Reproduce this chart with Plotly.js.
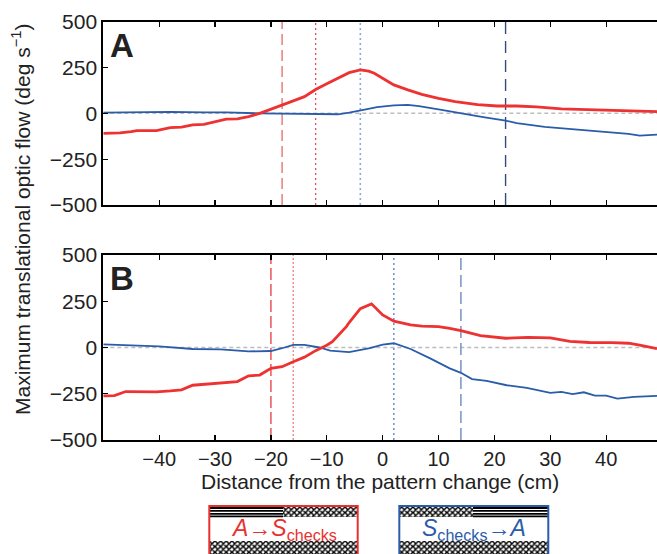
<!DOCTYPE html>
<html><head><meta charset="utf-8">
<script src="https://cdn.plot.ly/plotly-3.0.1.min.js"></script>
<style>html,body{margin:0;padding:0;background:#fff;overflow:hidden}</style>
</head><body><div id="chart" style="width:657px;height:554px"></div>
<script>
// ---------- data ----------
const redA_x = [-50,-47,-45,-44,-40.5,-38,-36,-34,-32,-30,-28,-26,-24,-22,-20,-18,-16,-14,-12,-10,-8.5,-6,-4,-2.5,-1.5,0,2,4.5,7,10,13,17,20.5,24,27.5,32,37,42,45.5,49.1];
const redA_y = [-109,-107,-100,-94,-94,-78,-75,-63,-60,-47,-32,-30,-18,0,24,48,68,91,130,161,185,222,237,230,219,190,155,128,104,82,64,48,40,40,35,24,20,17,13,9];
const blueA_x = [-50,-45,-38,-32,-28,-22,-16,-10,-8,-6,-4,-3,-1,2,4.5,6.5,10,13,18,22,24,29,35,41,44,46,49.1];
const blueA_y = [4,5,8,5,5,0,-2,-8,-5,4,14,22,34,44,46,40,22,5,-20,-40,-53,-74,-90,-103,-112,-121,-116];
const redB_x = [-50,-48,-46,-43.5,-40.5,-38,-36,-34,-32,-30,-28,-26,-24,-22,-20,-18,-16,-14,-12,-10,-9,-8,-6.5,-6,-4,-2,0,2,5,7,10,12,14,17.5,22,26,30,33.5,37,41,44,46,49.1];
const redB_y = [-262,-260,-238,-238,-240,-235,-229,-204,-198,-195,-187,-184,-153,-149,-113,-104,-77,-52,-17,12,31,62,113,135,210,236,176,142,122,116,113,104,91,64,50,55,52,33,27,26,23,13,-6];
const blueB_x = [-50,-44,-40,-34,-29,-24,-20,-18,-16,-14,-11.3,-9.4,-6,-2.3,0,2,5,8.5,12,14,16,18.6,22.2,25.8,30,32,34,36,38,40,42,45,49.1];
const blueB_y = [17,12,6,-8,-10,-21,-19,-4,14,14,0,-17,-25,-4,15,23,-8,-59,-113,-137,-171,-180,-204,-218,-245,-240,-252,-242,-260,-260,-276,-267,-262];
const markersA_x = [-18,-12,-4,22];
const markersB_x = [-20,-16,2,14];
const xTicks = [-40,-30,-20,-10,0,10,20,30,40];
const yTicks = [-500,-250,0,250,500];
const legendLabels = ['<i>A</i>→<i>S</i><sub>checks</sub>','<i>S</i><sub>checks</sub>→<i>A</i>'];

// ---------- styles ----------
const RED = '#EE3131', BLUE = '#2A5CAA';
const FONT = 'Liberation Sans, Arial, sans-serif';
const markerStylesA = [
  {color:'#E26A72', dash:'11px,5px', width:1.3},
  {color:'#DD4A63', dash:'2px,3px', width:1.3},
  {color:'#8CA8DA', dash:'2px,3px', width:1.6},
  {color:'#2F4C7C', dash:'12px,7px', width:1.4}
];
const markerStylesB = [
  {color:'#E83838', dash:'12px,4px', width:1.3},
  {color:'#F08A8A', dash:'2px,2px', width:1.4},
  {color:'#4F7DCC', dash:'2px,3px', width:1.3},
  {color:'#7E98C8', dash:'12px,5px', width:1.6}
];

const traces = [];
function vlines(xs, styles, xa, ya){
  xs.forEach((v,i)=>traces.push({x:[v,v], y:[-500,500], xaxis:xa, yaxis:ya, mode:'lines',
    line:styles[i], hoverinfo:'skip', showlegend:false}));
}
vlines(markersA_x, markerStylesA, 'x', 'y');
vlines(markersB_x, markerStylesB, 'x2', 'y2');
traces.push({x:blueA_x, y:blueA_y, xaxis:'x', yaxis:'y', mode:'lines', line:{color:BLUE, width:1.8}, showlegend:false});
traces.push({x:redA_x, y:redA_y, xaxis:'x', yaxis:'y', mode:'lines', line:{color:RED, width:2.8}, showlegend:false});
traces.push({x:blueB_x, y:blueB_y, xaxis:'x2', yaxis:'y2', mode:'lines', line:{color:BLUE, width:1.8}, showlegend:false});
traces.push({x:redB_x, y:redB_y, xaxis:'x2', yaxis:'y2', mode:'lines', line:{color:RED, width:2.8}, showlegend:false});

// legend texture patches (pixel coords on helper axis)
const patches = [
  {x0:283, x1:357, y0:506.5, y1:517},
  {x0:210, x1:357, y0:541, y1:554},
  {x0:400, x1:473, y0:506.5, y1:517},
  {x0:400, x1:548, y0:541, y1:554}
];
traces.push({type:'bar', xaxis:'x3', yaxis:'y3', showlegend:false, hoverinfo:'skip',
  x:patches.map(p=>(p.x0+p.x1)/2), width:patches.map(p=>p.x1-p.x0),
  base:patches.map(p=>p.y0), y:patches.map(p=>p.y1-p.y0),
  marker:{color:'#fff', line:{width:0}, pattern:{shape:'x', size:4, solidity:0.6, fgcolor:'#000', bgcolor:'#fff', fillmode:'replace'}}});

const shapes = [];
['y','y2'].forEach(ya=>shapes.push({type:'line', xref:(ya==='y'?'x':'x2')+' domain', yref:ya, x0:0, x1:1, y0:0, y1:0,
  line:{color:'#BDBDBD', width:1.5, dash:'4px,3px'}, layer:'below'}));
// stripes
[[210,283],[473,548]].forEach(([a,b])=>{
  [508,510.9,513.8,516.4].forEach(yy=>shapes.push({type:'line', xref:'x3', yref:'y3', x0:a, x1:b, y0:yy, y1:yy, line:{color:'#000', width:1.8}}));
});
shapes.push({type:'rect', xref:'x3', yref:'y3', x0:209.3, x1:357.7, y0:506, y1:560, line:{color:'#E8302F', width:2}});
shapes.push({type:'rect', xref:'x3', yref:'y3', x0:399.3, x1:548.3, y0:506, y1:560, line:{color:'#2A5CAA', width:2}});

const W=657, H=554;
const py = p => 1 - p/H;
const axX = {range:[-50,49.1], showline:true, linewidth:2, linecolor:'#000', mirror:'ticks', ticks:'inside', ticklen:5, tickwidth:1.3, tickcolor:'#000',
  tickvals:xTicks, showgrid:false, zeroline:false, domain:[103.3/W,1], fixedrange:true, tickfont:{family:FONT, size:20, color:'#222'}};
const axY = {range:[-500,500], showline:true, linewidth:2, linecolor:'#000', ticks:'inside', ticklen:5, tickwidth:1.3, tickcolor:'#000',
  tickvals:yTicks, showgrid:false, zeroline:false, fixedrange:true, tickfont:{family:FONT, size:21, color:'#222'}};

const layout = {
  width:W, height:H, margin:{l:0,r:0,t:0,b:0}, paper_bgcolor:'#fff', plot_bgcolor:'rgba(0,0,0,0)',
  showlegend:false, font:{family:FONT, color:'#222'},
  xaxis:Object.assign({}, axX, {anchor:'y', showticklabels:false}),
  yaxis:Object.assign({}, axY, {anchor:'x', domain:[py(205), py(21.7)]}),
  xaxis2:Object.assign({}, axX, {anchor:'y2', showticklabels:true,
    title:{text:'Distance from the pattern change (cm)', font:{family:FONT, size:21, color:'#222'}, standoff:2}}),
  yaxis2:Object.assign({}, axY, {anchor:'x2', domain:[py(440), py(255)]}),
  xaxis3:{domain:[0,1], range:[0,W], visible:false, fixedrange:true, anchor:'y3'},
  yaxis3:{domain:[0, py(490)], range:[H,490], visible:false, fixedrange:true, anchor:'x3'},
  bargap:0,
  shapes:shapes,
  annotations:[
    {text:'<b>A</b>', xref:'paper', yref:'paper', x:108/W, y:py(45), xanchor:'left', yanchor:'middle', showarrow:false, font:{family:FONT, size:33, color:'#222'}},
    {text:'<b>B</b>', xref:'paper', yref:'paper', x:108/W, y:py(278), xanchor:'left', yanchor:'middle', showarrow:false, font:{family:FONT, size:33, color:'#222'}},
    {text:'Maximum translational optic flow (deg s<sup>−1</sup>)', xref:'paper', yref:'paper', x:21/W, y:py(220), textangle:-90, showarrow:false,
      xanchor:'center', yanchor:'middle', font:{family:FONT, size:21, color:'#222'}},
    {text:legendLabels[0], xref:'x3', yref:'y3', x:283.5, y:529, showarrow:false, font:{family:FONT, size:23, color:'#E8302F'}},
    {text:legendLabels[1], xref:'x3', yref:'y3', x:473.8, y:529, showarrow:false, font:{family:FONT, size:23, color:'#2A5CAA'}}
  ]
};
Plotly.newPlot('chart', traces, layout, {displayModeBar:false, staticPlot:true});
</script></body></html>
